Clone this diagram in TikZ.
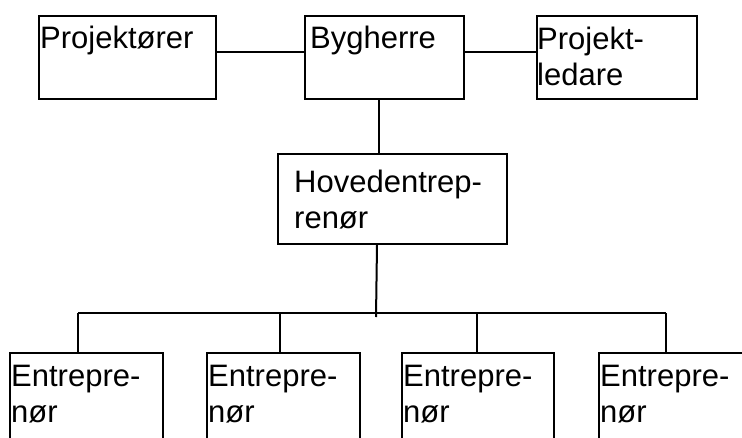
\documentclass[tikz,border=0pt]{standalone}
\usepackage{fontspec}
\setmainfont{Liberation Sans}
\usetikzlibrary{positioning}

\tikzset{
  box/.style={draw=black,line width=2pt,rectangle,inner sep=0pt,anchor=north west},
  lbl/.style={inner sep=0pt,anchor=base west,align=left,font=\fontsize{31}{36}\selectfont},
  wire/.style={draw=black,line width=2pt}
}

\begin{document}
\begin{tikzpicture}[x=1pt,y=-1pt]
\useasboundingbox (0,0) rectangle (742,437);
\clip (0,0) rectangle (742,437);
\node [box,minimum width=177pt,minimum height=83pt] (pj) at (38,15) {};
\node [box,minimum width=159pt,minimum height=83pt] (bh) at (304,15) {};
\node [box,minimum width=160pt,minimum height=83pt] (pl) at (536,15) {};
\node [box,minimum width=229pt,minimum height=90pt] (hd) at (277,153) {};
\node [box,minimum width=153pt,minimum height=120pt] (e1) at (9,352) {};
\node [box,minimum width=153pt,minimum height=120pt] (e2) at (206,352) {};
\node [box,minimum width=152pt,minimum height=120pt] (e3) at (401,352) {};
\node [box,minimum width=153pt,minimum height=120pt] (e4) at (598,352) {};
\node [lbl] (pjt) at (40,48) {Projektører};
\node [lbl] (bht) at (310,48) {Bygherre};
\node [lbl] (plt) at (537,85) {Projekt-\\ledare};
\node [lbl] (hdt) at (294,228) {Hovedentrep-\\renør};
\node [lbl] (e1t) at (11,422) {Entrepre-\\nør};
\node [lbl] (e2t) at (208,422) {Entrepre-\\nør};
\node [lbl] (e3t) at (403,422) {Entrepre-\\nør};
\node [lbl] (e4t) at (600,422) {Entrepre-\\nør};
\coordinate (b1) at (78,313);
\coordinate (b2) at (280,313);
\coordinate (b3) at (477,313);
\coordinate (b4) at (666,313);
\coordinate (bm) at (376,317);
\draw [wire] ([yshift=5.5pt]pj.east) -- ([yshift=5.5pt]bh.west);
\draw [wire] ([yshift=5.5pt]bh.east) -- ([yshift=5.5pt]pl.west);
\draw [wire] ([xshift=-5.5pt]bh.south) -- ([xshift=-13.5pt]hd.north);
\draw [wire] ([xshift=-15.5pt]hd.south) -- (bm);
\draw [wire] (b1) -- (b4);
\draw [wire] (b1) -- (b1 |- e1.north);
\draw [wire] (b2) -- (b2 |- e2.north);
\draw [wire] (b3) -- (b3 |- e3.north);
\draw [wire] (b4) -- (b4 |- e4.north);
\end{tikzpicture}
\end{document}
